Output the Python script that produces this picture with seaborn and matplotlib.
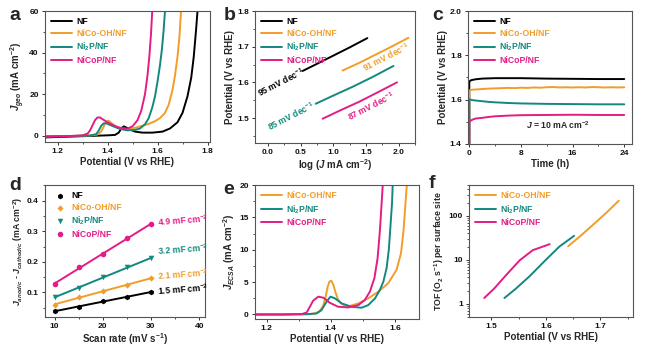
import numpy as np
import pandas as pd
import matplotlib
matplotlib.use("Agg")
import matplotlib.pyplot as plt
from matplotlib.ticker import MultipleLocator, LogLocator, NullFormatter, FormatStrFormatter, FuncFormatter
import seaborn as sns

sns.set_theme(style="ticks")
plt.rcParams.update({
    "font.family": ["Liberation Sans", "DejaVu Sans"],
    "font.weight": "bold",
    "axes.labelweight": "bold",
    "mathtext.fontset": "custom",
    "mathtext.rm": "Liberation Sans:bold",
    "mathtext.it": "Liberation Sans:italic:bold",
    "mathtext.bf": "Liberation Sans:bold",
    "mathtext.default": "bf",
    "axes.linewidth": 0.8,
    "xtick.direction": "out",
    "ytick.direction": "out",
    "xtick.major.size": 2.5,
    "ytick.major.size": 2.5,
    "xtick.minor.size": 1.5,
    "ytick.minor.size": 1.5,
    "xtick.major.width": 0.7,
    "ytick.major.width": 0.7,
    "xtick.minor.width": 0.6,
    "ytick.minor.width": 0.6,
    "xtick.labelsize": 6,
    "ytick.labelsize": 6,
    "axes.labelsize": 7,
    "xtick.major.pad": 2,
    "ytick.major.pad": 2,
})

# ---------------- colours / names ----------------
names = ["NF", "NiCo-OH/NF", "Ni$_2$P/NF", "NiCoP/NF"]
colors = ["#000000", "#F29D2A", "#12897F", "#E31C86"]

# ---------------- panel a: LSV ----------------
a_nf_x = [1.15, 1.20, 1.25, 1.30, 1.35, 1.40, 1.43, 1.445, 1.455, 1.465, 1.475, 1.49, 1.51, 1.54, 1.58,
          1.62, 1.65, 1.68, 1.70, 1.72, 1.735, 1.745, 1.755, 1.76]
a_nf_y = [-0.8, -0.6, -0.4, -0.2, 0.0, 0.2, 0.4, 1.5, 3.5, 4.5, 4.0, 3.0, 2.0, 1.5, 1.5,
          2.0, 3.5, 6.5, 11, 19, 28, 38, 52, 60]
a_oh_x = [1.15, 1.25, 1.33, 1.36, 1.375, 1.385, 1.395, 1.405, 1.415, 1.43, 1.45, 1.47, 1.50, 1.53, 1.56,
          1.59, 1.61, 1.63, 1.645, 1.66, 1.67, 1.68, 1.688, 1.694]
a_oh_y = [-0.3, -0.1, 0.1, 0.6, 2.0, 4.5, 6.8, 7.2, 6.2, 4.8, 3.5, 3.0, 3.5, 4.5, 5.5,
          7.0, 8.5, 11, 15, 22, 29, 38, 48, 60]
a_p_x = [1.15, 1.25, 1.33, 1.355, 1.365, 1.375, 1.385, 1.395, 1.41, 1.43, 1.45, 1.48, 1.51, 1.53, 1.55,
         1.565, 1.58, 1.59, 1.60, 1.61, 1.618, 1.624, 1.63]
a_p_y = [-0.3, -0.1, 0.1, 0.8, 2.5, 4.8, 6.0, 6.0, 5.2, 4.2, 3.3, 2.6, 2.8, 3.5, 5.5,
         8.5, 14, 19, 26, 34, 42, 50, 60]
a_cop_x = [1.15, 1.25, 1.30, 1.32, 1.33, 1.34, 1.35, 1.36, 1.37, 1.38, 1.40, 1.42, 1.44, 1.46, 1.48,
           1.50, 1.52, 1.535, 1.55, 1.56, 1.568, 1.574, 1.579]
a_cop_y = [-0.4, -0.2, 0.2, 1.0, 2.5, 5.0, 7.5, 8.8, 8.8, 8.0, 6.5, 5.2, 4.2, 3.6, 3.5,
           4.5, 7.5, 12, 20, 29, 39, 49, 60]

# ---------------- panel b: Tafel ----------------
b_nf_x = [0.53, 0.75, 1.00, 1.25, 1.52]
b_nf_y = [1.632, 1.652, 1.675, 1.698, 1.724]
b_oh_x = [1.14, 1.40, 1.65, 1.90, 2.15]
b_oh_y = [1.633, 1.655, 1.678, 1.701, 1.725]
b_p_x = [0.73, 1.00, 1.30, 1.60, 1.92]
b_p_y = [1.540, 1.563, 1.588, 1.615, 1.646]
b_cop_x = [0.835, 1.10, 1.40, 1.70, 1.975]
b_cop_y = [1.498, 1.521, 1.546, 1.574, 1.600]
tafel_labels = ["95 mV dec$^{-1}$", "91 mV dec$^{-1}$", "85 mV dec$^{-1}$", "87 mV dec$^{-1}$"]

# ---------------- panel c: stability ----------------
c_nf_t = [0, 0, 0.3, 1, 2, 4, 8, 12, 16, 20, 24]
c_nf_v = [1.40, 1.682, 1.688, 1.692, 1.695, 1.697, 1.697, 1.695, 1.694, 1.693, 1.693]
c_oh_t = [0, 0, 0.5, 1, 2, 3, 4, 5, 6, 7, 8, 9, 10, 11, 12, 13, 14, 15, 16, 17, 18, 19, 20, 21, 22, 23, 24]
c_oh_v = [1.40, 1.642, 1.645, 1.646, 1.648, 1.650, 1.651, 1.652, 1.653, 1.652, 1.654, 1.653, 1.655, 1.654,
          1.656, 1.657, 1.655, 1.656, 1.655, 1.656, 1.655, 1.657, 1.656, 1.655, 1.656, 1.655, 1.656]
c_p_t = [0, 0, 0.5, 1, 2, 3, 4, 6, 8, 12, 16, 20, 24]
c_p_v = [1.40, 1.601, 1.598, 1.596, 1.593, 1.590, 1.588, 1.585, 1.583, 1.581, 1.580, 1.579, 1.579]
c_cop_t = [0, 0, 0.2, 0.5, 1, 2, 3, 4, 6, 8, 12, 16, 20, 24]
c_cop_v = [1.40, 1.500, 1.505, 1.510, 1.515, 1.518, 1.522, 1.525, 1.528, 1.530, 1.531, 1.532, 1.531, 1.531]

# ---------------- panel d: Cdl ----------------
scan_rate = [10, 15, 20, 25, 30]
d_nf = [0.038, 0.054, 0.073, 0.085, 0.101]
d_oh = [0.060, 0.084, 0.105, 0.125, 0.146]
d_p = [0.084, 0.116, 0.149, 0.182, 0.212]
d_cop = [0.127, 0.182, 0.226, 0.277, 0.323]
cdl_labels = ["1.5 mF cm$^{-2}$", "2.1 mF cm$^{-2}$", "3.2 mF cm$^{-2}$", "4.9 mF cm$^{-2}$"]
d_markers = ["h", "D", "v", "o"]

# ---------------- panel e: ECSA normalised ----------------
e_oh_x = [1.15, 1.25, 1.33, 1.351, 1.365, 1.376, 1.384, 1.390, 1.396, 1.402, 1.408, 1.415, 1.422, 1.430,
          1.442, 1.455, 1.486, 1.517, 1.548, 1.579, 1.605, 1.619, 1.627, 1.633, 1.637]
e_oh_y = [0.0, 0.0, 0.05, 0.16, 0.5, 1.3, 2.7, 4.2, 5.1, 5.2, 4.6, 3.4, 2.4, 1.8,
          1.4, 1.25, 1.71, 2.49, 3.52, 4.82, 6.89, 9.48, 13.1, 17.25, 20.0]
e_p_x = [1.15, 1.25, 1.33, 1.356, 1.371, 1.387, 1.399, 1.413, 1.434, 1.465, 1.496, 1.517, 1.538, 1.553,
         1.564, 1.574, 1.581, 1.586, 1.591, 1.593]
e_p_y = [0.0, 0.0, 0.05, 0.16, 0.67, 1.97, 2.75, 2.49, 1.71, 1.19, 1.04, 1.45, 2.49, 3.78,
         5.08, 7.15, 10.0, 13.6, 17.25, 20.0]
e_cop_x = [1.15, 1.25, 1.309, 1.325, 1.335, 1.345, 1.361, 1.377, 1.397, 1.423, 1.455, 1.486, 1.506, 1.522,
           1.536, 1.546, 1.553, 1.558, 1.562]
e_cop_y = [0.0, 0.0, 0.05, 0.31, 1.19, 2.12, 2.75, 2.59, 1.81, 1.19, 1.09, 1.45, 2.23, 3.52,
           5.6, 8.7, 12.85, 16.7, 20.0]

# ---------------- panel f: TOF ----------------
f_oh_x = [1.641, 1.665, 1.690, 1.712, 1.734]
f_oh_y = [20.3, 36, 68, 120, 220]
f_p_x = [1.524, 1.545, 1.570, 1.598, 1.625, 1.652]
f_p_y = [1.35, 2.2, 4.2, 9.4, 20, 35]
f_cop_x = [1.487, 1.505, 1.524, 1.552, 1.576, 1.607]
f_cop_y = [1.35, 2.2, 4.06, 9.7, 16.5, 22.6]

# ====================================================================
fig = plt.figure(figsize=(6.5, 3.47), dpi=100)
W, H = 650.0, 347.0


def add_ax(l, t, r, b):
    return fig.add_axes([l / W, 1 - b / H, (r - l) / W, (b - t) / H])


axa = add_ax(45, 11, 210, 142)
axb = add_ax(255, 11, 415, 143)
axc = add_ax(468, 11, 632, 144)
axd = add_ax(45, 185, 205, 317)
axe = add_ax(255, 185, 419, 319)
axf = add_ax(469, 185, 633, 317)

LW = 1.4
FS = 6.2


def draw_lines(ax, xs, ys, cols, labs):
    for x, y, c, l in zip(xs, ys, cols, labs):
        df = pd.DataFrame({"x": x, "y": y})
        sns.lineplot(data=df, x="x", y="y", color=c, label=l, ax=ax,
                     estimator=None, sort=False, lw=LW)


def style(ax, xlabel, ylabel, ysize=7):
    ax.set_xlabel(xlabel, labelpad=1)
    ax.set_ylabel(ylabel, labelpad=1.5, fontsize=ysize)
    for s in ax.spines.values():
        s.set_visible(True)
        s.set_linewidth(0.8)
        s.set_color("#555555")
    ax.tick_params(which="both", top=False, right=False, colors="#333333", labelcolor="#111111")


def legend(ax):
    leg = ax.legend(loc="upper left", frameon=False, fontsize=FS, labelcolor="linecolor",
                    handlelength=2.4, handletextpad=0.5,
                    borderaxespad=0.35, labelspacing=0.3)
    for t in leg.get_texts():
        t.set_fontweight("bold")
    return leg


# ---- a ----
draw_lines(axa, [a_nf_x, a_oh_x, a_p_x, a_cop_x], [a_nf_y, a_oh_y, a_p_y, a_cop_y], colors, names)
axa.set_xlim(1.15, 1.81)
axa.set_ylim(-3, 60)
axa.xaxis.set_major_locator(MultipleLocator(0.2))
axa.xaxis.set_minor_locator(MultipleLocator(0.1))
axa.yaxis.set_major_locator(MultipleLocator(20))
axa.yaxis.set_minor_locator(MultipleLocator(10))
axa.xaxis.set_major_formatter(FormatStrFormatter("%.1f"))
style(axa, "Potential (V vs RHE)", "$\\mathit{J}_{\\mathit{geo}}$ (mA cm$^{-2}$)")
legend(axa)

# ---- b ----
draw_lines(axb, [b_nf_x, b_oh_x, b_p_x, b_cop_x], [b_nf_y, b_oh_y, b_p_y, b_cop_y], colors, names)
axb.set_xlim(-0.2, 2.25)
axb.set_ylim(1.43, 1.8)
axb.xaxis.set_major_locator(MultipleLocator(0.5))
axb.xaxis.set_minor_locator(MultipleLocator(0.25))
axb.yaxis.set_major_locator(MultipleLocator(0.1))
axb.yaxis.set_minor_locator(MultipleLocator(0.05))
axb.xaxis.set_major_formatter(FormatStrFormatter("%.1f"))
axb.yaxis.set_major_formatter(FormatStrFormatter("%.1f"))
style(axb, "log ($\\mathit{J}$ mA cm$^{-2}$)", "Potential (V vs RHE)")
legend(axb)
tafel_pos = [(0.20, 1.602), (1.81, 1.670), (0.354, 1.506), (1.58, 1.533)]
for (tx, ty), lab, c in zip(tafel_pos, tafel_labels, colors):
    axb.text(tx, ty, lab, color=c, fontsize=FS, fontweight="bold", rotation=27,
             ha="center", va="center", rotation_mode="anchor")

# ---- c ----
draw_lines(axc, [c_nf_t, c_oh_t, c_p_t, c_cop_t], [c_nf_v, c_oh_v, c_p_v, c_cop_v], colors, names)
axc.set_xlim(-0.2, 25.2)
axc.set_ylim(1.4, 2.0)
axc.xaxis.set_major_locator(MultipleLocator(8))
axc.xaxis.set_minor_locator(MultipleLocator(4))
axc.yaxis.set_major_locator(MultipleLocator(0.2))
axc.yaxis.set_minor_locator(MultipleLocator(0.1))
axc.yaxis.set_major_formatter(FormatStrFormatter("%.1f"))
style(axc, "Time (h)", "Potential (V vs RHE)")
legend(axc)
axc.text(13.8, 1.483, "$\\mathit{J}$ = 10 mA cm$^{-2}$", fontsize=FS, fontweight="bold",
         ha="center", va="center")

# ---- d ----
for yv, c, lab, mk in zip([d_nf, d_oh, d_p, d_cop], colors, names, d_markers):
    df = pd.DataFrame({"rate": scan_rate, "j": yv})
    sns.regplot(data=df, x="rate", y="j", ax=axd, ci=None, color=c, marker=mk,
                scatter_kws={"s": 16 if mk != "D" else 10, "linewidths": 0, "alpha": 1},
                line_kws={"lw": LW}, label=lab)
axd.set_xlim(8, 41.2)
axd.set_ylim(0.02, 0.451)
axd.xaxis.set_major_locator(MultipleLocator(10))
axd.xaxis.set_minor_locator(MultipleLocator(5))
axd.yaxis.set_major_locator(MultipleLocator(0.1))
axd.yaxis.set_minor_locator(MultipleLocator(0.05))
axd.yaxis.set_major_formatter(FormatStrFormatter("%.1f"))
style(axd, "Scan rate (mV s$^{-1}$)",
      "$\\mathit{J}_{\\mathit{anodic}}$ - $\\mathit{J}_{\\mathit{cathodic}}$ (mA cm$^{-2}$)", ysize=6.3)
handles, labels = axd.get_legend_handles_labels()
hs = [h for h in handles if isinstance(h, matplotlib.collections.PathCollection)]
leg = axd.legend(hs, names, loc="upper left", frameon=False, fontsize=FS, handletextpad=0.3,
                 borderaxespad=0.35, labelspacing=0.3, markerscale=1.0)
for t, c in zip(leg.get_texts(), colors):
    t.set_color(c)
    t.set_fontweight("bold")
d_lab_y = [0.103, 0.154, 0.234, 0.331]
for ty, lab, c in zip(d_lab_y, cdl_labels, colors):
    axd.text(31.3, ty, lab, color=c, fontsize=FS, fontweight="bold", rotation=4,
             ha="left", va="center", rotation_mode="anchor")

# ---- e ----
draw_lines(axe, [e_oh_x, e_p_x, e_cop_x], [e_oh_y, e_p_y, e_cop_y], colors[1:], names[1:])
axe.set_xlim(1.164, 1.675)
axe.set_ylim(-0.7, 20)
axe.xaxis.set_major_locator(MultipleLocator(0.2))
axe.xaxis.set_minor_locator(MultipleLocator(0.1))
axe.yaxis.set_major_locator(MultipleLocator(5))
axe.yaxis.set_minor_locator(MultipleLocator(2.5))
axe.xaxis.set_major_formatter(FormatStrFormatter("%.1f"))
style(axe, "Potential (V vs RHE)", "$\\mathit{J}_{\\mathit{ECSA}}$ (mA cm$^{-2}$)")
legend(axe)

# ---- f ----
draw_lines(axf, [f_oh_x, f_p_x, f_cop_x], [f_oh_y, f_p_y, f_cop_y], colors[1:], names[1:])
axf.set_yscale("log")
axf.set_xlim(1.459, 1.76)
axf.set_ylim(0.5, 500)
axf.xaxis.set_major_locator(MultipleLocator(0.1))
axf.xaxis.set_minor_locator(MultipleLocator(0.05))
axf.yaxis.set_major_locator(LogLocator(base=10, numticks=10))
axf.yaxis.set_minor_locator(LogLocator(base=10, subs=np.arange(2, 10), numticks=10))
axf.yaxis.set_minor_formatter(NullFormatter())
axf.yaxis.set_major_formatter(FuncFormatter(lambda v, p: f"{v:g}"))
axf.xaxis.set_major_formatter(FormatStrFormatter("%.1f"))
style(axf, "Potential (V vs RHE)", "TOF (O$_2$ s$^{-1}$) per surface site", ysize=6.3)
legend(axf)

# panel letters
for lx, ly, s in [(15, 15, "a"), (230, 15, "b"), (438, 15, "c"),
                  (15, 186, "d"), (229, 189, "e"), (432, 183, "f")]:
    fig.text(lx / W, 1 - ly / H, s, fontsize=14, fontweight="bold", ha="center", va="center")

fig.savefig("out.png", dpi=100)
